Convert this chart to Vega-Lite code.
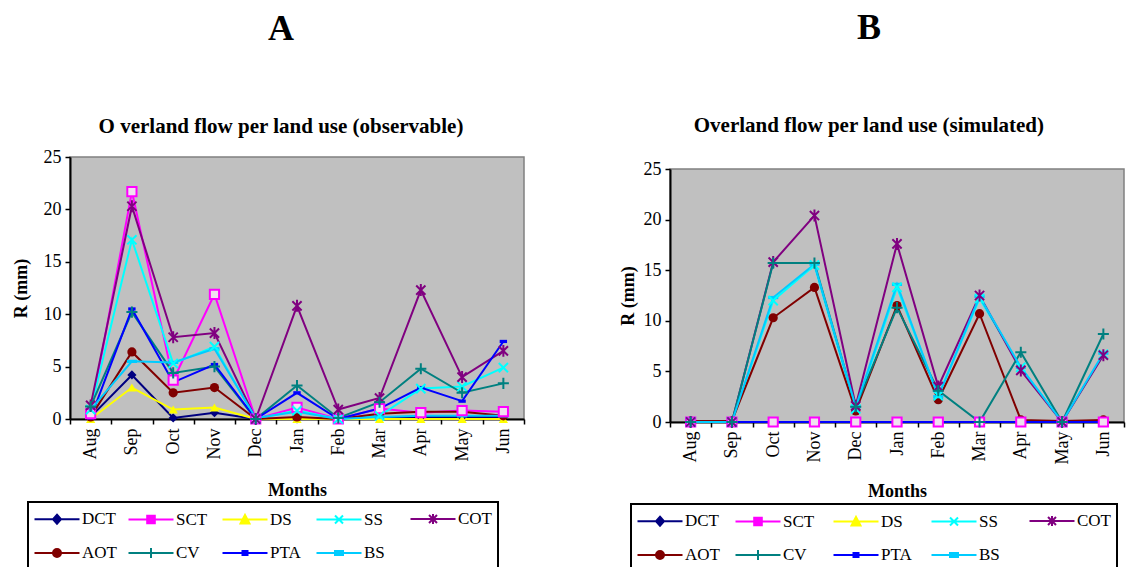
{
  "$schema": "https://vega.github.io/schema/vega-lite/v6.json",
  "background": "white",
  "padding": {"left": 11, "top": 10, "right": 5, "bottom": 5},
  "spacing": 92,
  "datasets": {
    "obs": [
      {"month":"Aug","series":"DCT","R":0.2},{"month":"Sep","series":"DCT","R":4.2},{"month":"Oct","series":"DCT","R":0.1},{"month":"Nov","series":"DCT","R":0.6},{"month":"Dec","series":"DCT","R":0},{"month":"Jan","series":"DCT","R":0},{"month":"Feb","series":"DCT","R":0},{"month":"Mar","series":"DCT","R":0.1},{"month":"Apr","series":"DCT","R":0.2},{"month":"May","series":"DCT","R":0.2},{"month":"Jun","series":"DCT","R":0.2},
      {"month":"Aug","series":"SCT","R":0.5},{"month":"Sep","series":"SCT","R":21.7},{"month":"Oct","series":"SCT","R":3.7},{"month":"Nov","series":"SCT","R":11.9},{"month":"Dec","series":"SCT","R":0},{"month":"Jan","series":"SCT","R":1.1},{"month":"Feb","series":"SCT","R":0},{"month":"Mar","series":"SCT","R":1.0},{"month":"Apr","series":"SCT","R":0.6},{"month":"May","series":"SCT","R":0.8},{"month":"Jun","series":"SCT","R":0.7},
      {"month":"Aug","series":"DS","R":0},{"month":"Sep","series":"DS","R":3.0},{"month":"Oct","series":"DS","R":0.9},{"month":"Nov","series":"DS","R":1.1},{"month":"Dec","series":"DS","R":0},{"month":"Jan","series":"DS","R":0},{"month":"Feb","series":"DS","R":0},{"month":"Mar","series":"DS","R":0},{"month":"Apr","series":"DS","R":0},{"month":"May","series":"DS","R":0},{"month":"Jun","series":"DS","R":0},
      {"month":"Aug","series":"SS","R":0.9},{"month":"Sep","series":"SS","R":17.1},{"month":"Oct","series":"SS","R":5.3},{"month":"Nov","series":"SS","R":6.9},{"month":"Dec","series":"SS","R":0},{"month":"Jan","series":"SS","R":0.8},{"month":"Feb","series":"SS","R":0},{"month":"Mar","series":"SS","R":0.3},{"month":"Apr","series":"SS","R":2.9},{"month":"May","series":"SS","R":3.1},{"month":"Jun","series":"SS","R":4.9},
      {"month":"Aug","series":"COT","R":1.3},{"month":"Sep","series":"COT","R":20.3},{"month":"Oct","series":"COT","R":7.8},{"month":"Nov","series":"COT","R":8.2},{"month":"Dec","series":"COT","R":0},{"month":"Jan","series":"COT","R":10.8},{"month":"Feb","series":"COT","R":0.9},{"month":"Mar","series":"COT","R":2.0},{"month":"Apr","series":"COT","R":12.3},{"month":"May","series":"COT","R":4.0},{"month":"Jun","series":"COT","R":6.5},
      {"month":"Aug","series":"AOT","R":0.2},{"month":"Sep","series":"AOT","R":6.4},{"month":"Oct","series":"AOT","R":2.5},{"month":"Nov","series":"AOT","R":3.0},{"month":"Dec","series":"AOT","R":0},{"month":"Jan","series":"AOT","R":0.2},{"month":"Feb","series":"AOT","R":0},{"month":"Mar","series":"AOT","R":0.5},{"month":"Apr","series":"AOT","R":0.7},{"month":"May","series":"AOT","R":0.7},{"month":"Jun","series":"AOT","R":0.3},
      {"month":"Aug","series":"CV","R":1.2},{"month":"Sep","series":"CV","R":10.2},{"month":"Oct","series":"CV","R":4.4},{"month":"Nov","series":"CV","R":5.0},{"month":"Dec","series":"CV","R":0},{"month":"Jan","series":"CV","R":3.2},{"month":"Feb","series":"CV","R":0.1},{"month":"Mar","series":"CV","R":1.6},{"month":"Apr","series":"CV","R":4.8},{"month":"May","series":"CV","R":2.5},{"month":"Jun","series":"CV","R":3.4},
      {"month":"Aug","series":"PTA","R":0.1},{"month":"Sep","series":"PTA","R":10.5},{"month":"Oct","series":"PTA","R":3.5},{"month":"Nov","series":"PTA","R":5.2},{"month":"Dec","series":"PTA","R":0},{"month":"Jan","series":"PTA","R":2.5},{"month":"Feb","series":"PTA","R":0},{"month":"Mar","series":"PTA","R":1.0},{"month":"Apr","series":"PTA","R":3.0},{"month":"May","series":"PTA","R":1.7},{"month":"Jun","series":"PTA","R":7.4},
      {"month":"Aug","series":"BS","R":0.9},{"month":"Sep","series":"BS","R":5.5},{"month":"Oct","series":"BS","R":5.4},{"month":"Nov","series":"BS","R":6.7},{"month":"Dec","series":"BS","R":0.1},{"month":"Jan","series":"BS","R":0.7},{"month":"Feb","series":"BS","R":0},{"month":"Mar","series":"BS","R":0.2},{"month":"Apr","series":"BS","R":0.3},{"month":"May","series":"BS","R":0.3},{"month":"Jun","series":"BS","R":0.3}
    ],
    "sim": [
      {"month":"Aug","series":"DCT","R":0},{"month":"Sep","series":"DCT","R":0},{"month":"Oct","series":"DCT","R":0},{"month":"Nov","series":"DCT","R":0},{"month":"Dec","series":"DCT","R":0},{"month":"Jan","series":"DCT","R":0},{"month":"Feb","series":"DCT","R":0},{"month":"Mar","series":"DCT","R":0},{"month":"Apr","series":"DCT","R":0},{"month":"May","series":"DCT","R":0},{"month":"Jun","series":"DCT","R":0},
      {"month":"Aug","series":"SCT","R":0},{"month":"Sep","series":"SCT","R":0},{"month":"Oct","series":"SCT","R":0},{"month":"Nov","series":"SCT","R":0},{"month":"Dec","series":"SCT","R":0},{"month":"Jan","series":"SCT","R":0},{"month":"Feb","series":"SCT","R":0},{"month":"Mar","series":"SCT","R":0},{"month":"Apr","series":"SCT","R":0},{"month":"May","series":"SCT","R":0},{"month":"Jun","series":"SCT","R":0},
      {"month":"Aug","series":"DS","R":0},{"month":"Sep","series":"DS","R":0},{"month":"Oct","series":"DS","R":0},{"month":"Nov","series":"DS","R":0},{"month":"Dec","series":"DS","R":0},{"month":"Jan","series":"DS","R":0},{"month":"Feb","series":"DS","R":0},{"month":"Mar","series":"DS","R":0},{"month":"Apr","series":"DS","R":0},{"month":"May","series":"DS","R":0},{"month":"Jun","series":"DS","R":0},
      {"month":"Aug","series":"SS","R":0},{"month":"Sep","series":"SS","R":0},{"month":"Oct","series":"SS","R":12.0},{"month":"Nov","series":"SS","R":15.5},{"month":"Dec","series":"SS","R":1.3},{"month":"Jan","series":"SS","R":13.3},{"month":"Feb","series":"SS","R":2.6},{"month":"Mar","series":"SS","R":12.2},{"month":"Apr","series":"SS","R":5.4},{"month":"May","series":"SS","R":0},{"month":"Jun","series":"SS","R":6.7},
      {"month":"Aug","series":"COT","R":0},{"month":"Sep","series":"COT","R":0},{"month":"Oct","series":"COT","R":15.8},{"month":"Nov","series":"COT","R":20.4},{"month":"Dec","series":"COT","R":1.6},{"month":"Jan","series":"COT","R":17.6},{"month":"Feb","series":"COT","R":3.5},{"month":"Mar","series":"COT","R":12.5},{"month":"Apr","series":"COT","R":5.1},{"month":"May","series":"COT","R":0},{"month":"Jun","series":"COT","R":6.6},
      {"month":"Aug","series":"AOT","R":0.1},{"month":"Sep","series":"AOT","R":0.1},{"month":"Oct","series":"AOT","R":10.3},{"month":"Nov","series":"AOT","R":13.3},{"month":"Dec","series":"AOT","R":1.1},{"month":"Jan","series":"AOT","R":11.5},{"month":"Feb","series":"AOT","R":2.2},{"month":"Mar","series":"AOT","R":10.7},{"month":"Apr","series":"AOT","R":0.2},{"month":"May","series":"AOT","R":0.1},{"month":"Jun","series":"AOT","R":0.2},
      {"month":"Aug","series":"CV","R":0},{"month":"Sep","series":"CV","R":0},{"month":"Oct","series":"CV","R":15.7},{"month":"Nov","series":"CV","R":15.7},{"month":"Dec","series":"CV","R":1.5},{"month":"Jan","series":"CV","R":11.3},{"month":"Feb","series":"CV","R":3.1},{"month":"Mar","series":"CV","R":0},{"month":"Apr","series":"CV","R":6.9},{"month":"May","series":"CV","R":0},{"month":"Jun","series":"CV","R":8.7},
      {"month":"Aug","series":"PTA","R":0},{"month":"Sep","series":"PTA","R":0},{"month":"Oct","series":"PTA","R":0},{"month":"Nov","series":"PTA","R":0},{"month":"Dec","series":"PTA","R":0},{"month":"Jan","series":"PTA","R":0},{"month":"Feb","series":"PTA","R":0},{"month":"Mar","series":"PTA","R":0},{"month":"Apr","series":"PTA","R":0},{"month":"May","series":"PTA","R":0},{"month":"Jun","series":"PTA","R":0},
      {"month":"Aug","series":"BS","R":0},{"month":"Sep","series":"BS","R":0},{"month":"Oct","series":"BS","R":12.3},{"month":"Nov","series":"BS","R":15.6},{"month":"Dec","series":"BS","R":1.5},{"month":"Jan","series":"BS","R":13.6},{"month":"Feb","series":"BS","R":2.5},{"month":"Mar","series":"BS","R":12.4},{"month":"Apr","series":"BS","R":5.4},{"month":"May","series":"BS","R":0},{"month":"Jun","series":"BS","R":6.8}
    ]
  },
  "resolve": {"scale": {"color": "independent", "shape": "independent"}, "legend": {"color": "independent", "shape": "independent"}},
  "hconcat": [
    {
      "width": 454, "height": 262,
      "title": {"text": "A", "subtitle": "O verland flow per land use (observable)", "dx": -16, "offset": 10, "subtitlePadding": 68},
      "data": {"name": "obs"},
      "encoding": {
        "x": {"field": "month", "type": "ordinal", "sort": ["Aug","Sep","Oct","Nov","Dec","Jan","Feb","Mar","Apr","May","Jun"], "scale": {"type": "band", "paddingInner": 0, "paddingOuter": 0}, "axis": {"title": "Months", "labelAngle": -90, "tickBand": "extent", "titlePadding": 21}},
        "y": {"field": "R", "type": "quantitative", "scale": {"domain": [0, 25], "nice": false}, "axis": {"title": "R (mm)", "values": [0,5,10,15,20,25], "titlePadding": 13}}
      },
      "layer": [
        {"mark": {"type": "line", "strokeWidth": 2},
         "encoding": {"color": {"field": "series", "type": "nominal",
          "scale": {"domain": ["DCT","SCT","DS","SS","COT","AOT","CV","PTA","BS"], "range": ["#000080","#FF00FF","#FFFF00","#00FFFF","#800080","#800000","#008080","#0000FF","#00CCFF"]},
          "legend": {"orient": "none", "legendX": -42, "legendY": 345, "columns": 5, "gridAlign": "all", "title": null, "direction": "horizontal", "strokeColor": "black", "padding": 6, "labelFont": "Liberation Serif", "labelFontSize": 17, "labelColor": "black", "symbolSize": 400, "symbolStrokeWidth": 2, "symbolOpacity": 1, "symbolOffset": 12, "labelOffset": 14, "columnPadding": 7, "rowPadding": 14,
            "encode": {"legend": {"update": {"strokeWidth": {"value": 2}}}, "symbols": {"update": {
              "shape": {"signal": "({'DCT':'M-2.25,0H2.25M0,-0.45L0.4,0L0,0.45L-0.4,0Z','SCT':'M-2.25,0H2.25M-0.38,-0.38H0.38V0.38H-0.38Z','DS':'M-2.25,0H2.25M0,-0.45L0.45,0.4H-0.45Z','SS':'M-2.25,0H2.25M-0.4,-0.4L0.4,0.4M-0.4,0.4L0.4,-0.4','COT':'M-2.25,0H2.25M-0.4,-0.4L0.4,0.4M-0.4,0.4L0.4,-0.4M0,-0.5V0.5','AOT':'M-2.25,0H2.25M-0.4,0A0.4,0.4,0,1,0,0.4,0A0.4,0.4,0,1,0,-0.4,0Z','CV':'M-2.25,0H2.25M0,-0.5V0.5','PTA':'M-2.25,0H2.25M-0.25,-0.2H0.25V0.2H-0.25Z','BS':'M-2.25,0H2.25M-0.4,-0.2H0.4V0.2H-0.4Z'})[datum.value]"},
              "fill": {"signal": "({'DCT':'#000080','SCT':'#FFFFFF','DS':'#FFFF00','SS':'#00FFFF','COT':'#800080','AOT':'#800000','CV':'#008080','PTA':'#0000FF','BS':'#00CCFF'})[datum.value]"},
              "stroke": {"signal": "({'DCT':'#000080','SCT':'#FF00FF','DS':'#FFFF00','SS':'#00FFFF','COT':'#800080','AOT':'#800000','CV':'#008080','PTA':'#0000FF','BS':'#00CCFF'})[datum.value]"},
              "opacity": {"value": 1}, "fillOpacity": {"value": 1}, "strokeOpacity": {"value": 1}
            }}}}}}},
        {"transform": [{"filter": {"field": "series", "oneOf": ["DCT","DS","AOT","PTA","BS"]}}],
         "mark": {"type": "point", "filled": true, "size": 85, "opacity": 1},
         "encoding": {"color": {"field": "series", "type": "nominal", "legend": null}, "shape": {"field": "series", "type": "nominal", "legend": null, "scale": {"domain": ["AOT","BS","COT","CV","DCT","DS","PTA","SCT","SS"], "range": ["circle","M-1.1,-0.35H1.1V0.35H-1.1Z","M-1,-1L1,1M-1,1L1,-1M0,-1.3V1.3","M-1.2,0H1.2M0,-1.2V1.2","diamond","triangle-up","M-0.8,-0.35H0.8V0.35H-0.8Z","square","M-1,-1L1,1M-1,1L1,-1"]}}}},
        {"transform": [{"filter": {"field": "series", "oneOf": ["SCT","SS","COT","CV"]}}],
         "mark": {"type": "point", "filled": false, "fill": "#F0E0F0", "strokeWidth": 2, "size": 85, "opacity": 1},
         "encoding": {"color": {"field": "series", "type": "nominal", "legend": null}, "shape": {"field": "series", "type": "nominal", "legend": null, "scale": {"domain": ["AOT","BS","COT","CV","DCT","DS","PTA","SCT","SS"], "range": ["circle","M-1.1,-0.35H1.1V0.35H-1.1Z","M-1,-1L1,1M-1,1L1,-1M0,-1.3V1.3","M-1.2,0H1.2M0,-1.2V1.2","diamond","triangle-up","M-0.8,-0.35H0.8V0.35H-0.8Z","square","M-1,-1L1,1M-1,1L1,-1"]}}}}
      ]
    },
    {
      "title": {"text": "B", "subtitle": "Overland flow per land use (simulated)", "dx": -3, "offset": 20, "subtitlePadding": 68},
      "spacing": 0,
      "vconcat": [
        {"width": 454, "height": 2, "data": {"values": []}, "view": {"fill": null, "stroke": null}, "mark": {"type": "text"}, "encoding": {"text": {"value": ""}}},
        {
          "width": 454, "height": 253,
          "data": {"name": "sim"},
          "encoding": {
            "x": {"field": "month", "type": "ordinal", "sort": ["Aug","Sep","Oct","Nov","Dec","Jan","Feb","Mar","Apr","May","Jun"], "scale": {"type": "band", "paddingInner": 0, "paddingOuter": 0}, "axis": {"title": "Months", "labelAngle": -90, "tickBand": "extent", "titlePadding": 19}},
            "y": {"field": "R", "type": "quantitative", "scale": {"domain": [0, 25], "nice": false}, "axis": {"title": "R (mm)", "values": [0,5,10,15,20,25], "titlePadding": 6}}
          },
          "layer": [
            {"mark": {"type": "line", "strokeWidth": 2},
             "encoding": {"color": {"field": "series", "type": "nominal",
              "scale": {"domain": ["DCT","SCT","DS","SS","COT","AOT","CV","PTA","BS"], "range": ["#000080","#FF00FF","#FFFF00","#00FFFF","#800080","#800000","#008080","#0000FF","#00CCFF"]},
              "legend": {"orient": "none", "legendX": -39, "legendY": 347, "columns": 5, "gridAlign": "all", "title": null, "direction": "horizontal", "strokeColor": "black", "padding": 6, "labelFont": "Liberation Serif", "labelFontSize": 17, "labelColor": "black", "symbolSize": 400, "symbolStrokeWidth": 2, "symbolOpacity": 1, "symbolOffset": 12, "labelOffset": 14, "columnPadding": 11, "rowPadding": 14,
                "encode": {"legend": {"update": {"strokeWidth": {"value": 2}}}, "symbols": {"update": {
                  "shape": {"signal": "({'DCT':'M-2.25,0H2.25M0,-0.45L0.4,0L0,0.45L-0.4,0Z','SCT':'M-2.25,0H2.25M-0.38,-0.38H0.38V0.38H-0.38Z','DS':'M-2.25,0H2.25M0,-0.45L0.45,0.4H-0.45Z','SS':'M-2.25,0H2.25M-0.4,-0.4L0.4,0.4M-0.4,0.4L0.4,-0.4','COT':'M-2.25,0H2.25M-0.4,-0.4L0.4,0.4M-0.4,0.4L0.4,-0.4M0,-0.5V0.5','AOT':'M-2.25,0H2.25M-0.4,0A0.4,0.4,0,1,0,0.4,0A0.4,0.4,0,1,0,-0.4,0Z','CV':'M-2.25,0H2.25M0,-0.5V0.5','PTA':'M-2.25,0H2.25M-0.25,-0.2H0.25V0.2H-0.25Z','BS':'M-2.25,0H2.25M-0.4,-0.2H0.4V0.2H-0.4Z'})[datum.value]"},
                  "fill": {"signal": "({'DCT':'#000080','SCT':'#FFFFFF','DS':'#FFFF00','SS':'#00FFFF','COT':'#800080','AOT':'#800000','CV':'#008080','PTA':'#0000FF','BS':'#00CCFF'})[datum.value]"},
                  "stroke": {"signal": "({'DCT':'#000080','SCT':'#FF00FF','DS':'#FFFF00','SS':'#00FFFF','COT':'#800080','AOT':'#800000','CV':'#008080','PTA':'#0000FF','BS':'#00CCFF'})[datum.value]"},
                  "opacity": {"value": 1}, "fillOpacity": {"value": 1}, "strokeOpacity": {"value": 1}
                }}}}}}},
            {"transform": [{"filter": {"field": "series", "oneOf": ["DCT","DS","AOT","PTA","BS"]}}],
             "mark": {"type": "point", "filled": true, "size": 85, "opacity": 1},
             "encoding": {"color": {"field": "series", "type": "nominal", "legend": null}, "shape": {"field": "series", "type": "nominal", "legend": null, "scale": {"domain": ["AOT","BS","COT","CV","DCT","DS","PTA","SCT","SS"], "range": ["circle","M-1.1,-0.35H1.1V0.35H-1.1Z","M-1,-1L1,1M-1,1L1,-1M0,-1.3V1.3","M-1.2,0H1.2M0,-1.2V1.2","diamond","triangle-up","M-0.8,-0.35H0.8V0.35H-0.8Z","square","M-1,-1L1,1M-1,1L1,-1"]}}}},
            {"transform": [{"filter": {"field": "series", "oneOf": ["SCT","SS","COT","CV"]}}],
             "mark": {"type": "point", "filled": false, "fill": "#F0E0F0", "strokeWidth": 2, "size": 85, "opacity": 1},
             "encoding": {"color": {"field": "series", "type": "nominal", "legend": null}, "shape": {"field": "series", "type": "nominal", "legend": null, "scale": {"domain": ["AOT","BS","COT","CV","DCT","DS","PTA","SCT","SS"], "range": ["circle","M-1.1,-0.35H1.1V0.35H-1.1Z","M-1,-1L1,1M-1,1L1,-1M0,-1.3V1.3","M-1.2,0H1.2M0,-1.2V1.2","diamond","triangle-up","M-0.8,-0.35H0.8V0.35H-0.8Z","square","M-1,-1L1,1M-1,1L1,-1"]}}}}
          ]
        }
      ]
    }
  ],
  "config": {
    "font": "Liberation Serif",
    "view": {"fill": "#C0C0C0", "stroke": "#808080", "strokeWidth": 1.5},
    "title": {"font": "Liberation Serif", "fontSize": 36, "fontWeight": "bold", "color": "black", "anchor": "middle", "subtitleFont": "Liberation Serif", "subtitleFontSize": 21, "subtitleFontWeight": "bold", "subtitleColor": "black"},
    "axis": {"grid": false, "labelFont": "Liberation Serif", "labelFontSize": 18, "labelColor": "black", "titleFont": "Liberation Serif", "titleFontSize": 18, "titleFontWeight": "bold", "titleColor": "black", "domainColor": "black", "domainWidth": 2, "tickColor": "black", "tickWidth": 1.5, "tickSize": 5, "labelPadding": 4}
  }
}
